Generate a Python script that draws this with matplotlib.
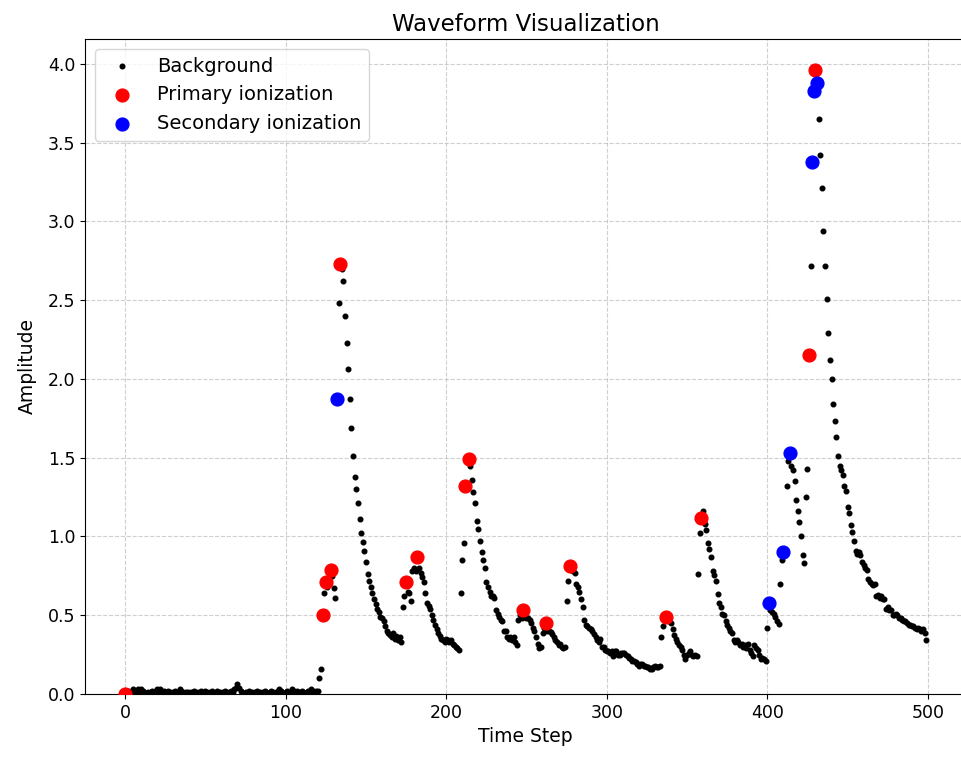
import numpy as np
import matplotlib
matplotlib.use("Agg")
import matplotlib.pyplot as plt

# waveform amplitude, one value per time step (0..499)
amplitude = [
    0.00, 0.01, 0.02, 0.01, 0.02, 0.03, 0.02, 0.01, 0.03, 0.02,
    0.03, 0.02, 0.01, 0.00, 0.01, 0.00, 0.01, 0.02, 0.01, 0.02,
    0.03, 0.02, 0.03, 0.01, 0.02, 0.00, 0.01, 0.02, 0.01, 0.00,
    0.01, 0.02, 0.00, 0.01, 0.03, 0.02, 0.01, 0.00, 0.01, 0.01,
    0.00, 0.01, 0.01, 0.02, 0.01, 0.00, 0.01, 0.02, 0.00, 0.01,
    0.02, 0.01, 0.00, 0.01, 0.02, 0.01, 0.00, 0.02, 0.01, 0.01,
    0.00, 0.01, 0.02, 0.01, 0.00, 0.01, 0.02, 0.01, 0.03, 0.04,
    0.06, 0.04, 0.02, 0.01, 0.00, 0.01, 0.00, 0.02, 0.01, 0.01,
    0.00, 0.01, 0.02, 0.00, 0.01, 0.00, 0.01, 0.02, 0.01, 0.00,
    0.01, 0.02, 0.01, 0.00, 0.01, 0.02, 0.03, 0.02, 0.01, 0.00,
    0.01, 0.02, 0.00, 0.01, 0.03, 0.02, 0.01, 0.02, 0.00, 0.01,
    0.02, 0.01, 0.00, 0.01, 0.02, 0.01, 0.03, 0.02, 0.01, 0.02,
    0.02, 0.10, 0.16, 0.50, 0.64, 0.71, 0.68, 0.74, 0.79, 0.75,
    0.675, 0.61, 1.87, 2.48, 2.73, 2.70, 2.62, 2.40, 2.23, 2.06,
    1.87, 1.69, 1.51, 1.38, 1.30, 1.21, 1.11, 1.02, 0.965, 0.91,
    0.84, 0.76, 0.72, 0.68, 0.64, 0.60, 0.57, 0.54, 0.52, 0.49,
    0.48, 0.46, 0.43, 0.40, 0.39, 0.375, 0.36, 0.39, 0.35, 0.37,
    0.34, 0.36, 0.33, 0.555, 0.62, 0.71, 0.65, 0.64, 0.59, 0.78,
    0.80, 0.78, 0.87, 0.80, 0.77, 0.74, 0.71, 0.64, 0.58, 0.56,
    0.54, 0.50, 0.47, 0.44, 0.41, 0.39, 0.37, 0.35, 0.34, 0.33,
    0.35, 0.34, 0.33, 0.34, 0.32, 0.31, 0.30, 0.29, 0.28, 0.64,
    0.85, 0.96, 1.32, 1.47, 1.49, 1.45, 1.36, 1.28, 1.21, 1.10,
    1.05, 0.97, 0.90, 0.85, 0.80, 0.71, 0.68, 0.65, 0.62, 0.62,
    0.61, 0.53, 0.51, 0.49, 0.47, 0.46, 0.40, 0.40, 0.36, 0.35,
    0.36, 0.34, 0.36, 0.33, 0.31, 0.47, 0.50, 0.48, 0.53, 0.50,
    0.48, 0.48, 0.47, 0.45, 0.42, 0.40, 0.36, 0.32, 0.29, 0.30,
    0.385, 0.42, 0.45, 0.40, 0.40, 0.395, 0.38, 0.36, 0.34, 0.33,
    0.31, 0.32, 0.30, 0.29, 0.30, 0.59, 0.72, 0.81, 0.79, 0.78,
    0.77, 0.70, 0.68, 0.65, 0.60, 0.555, 0.47, 0.44, 0.43, 0.42,
    0.41, 0.40, 0.38, 0.36, 0.34, 0.33, 0.35, 0.30, 0.30, 0.28,
    0.27, 0.27, 0.26, 0.27, 0.24, 0.27, 0.27, 0.25, 0.25, 0.26,
    0.26, 0.26, 0.25, 0.24, 0.23, 0.22, 0.21, 0.21, 0.20, 0.19,
    0.18, 0.19, 0.19, 0.18, 0.18, 0.17, 0.17, 0.16, 0.16, 0.17,
    0.18, 0.17, 0.17, 0.18, 0.36, 0.43, 0.47, 0.49, 0.47, 0.46,
    0.45, 0.41, 0.375, 0.35, 0.33, 0.31, 0.30, 0.28, 0.25, 0.22,
    0.25, 0.26, 0.27, 0.25, 0.24, 0.25, 0.24, 0.76, 1.02, 1.115,
    1.16, 1.08, 1.04, 0.96, 0.92, 0.87, 0.78, 0.755, 0.72, 0.635,
    0.58, 0.55, 0.51, 0.50, 0.46, 0.44, 0.42, 0.40, 0.385, 0.34,
    0.33, 0.34, 0.33, 0.31, 0.32, 0.30, 0.31, 0.29, 0.32, 0.28,
    0.26, 0.24, 0.31, 0.29, 0.28, 0.25, 0.22, 0.23, 0.22, 0.21,
    0.42, 0.58, 0.53, 0.52, 0.51, 0.49, 0.46, 0.445, 0.70, 0.85,
    0.90, 0.88, 1.32, 1.48, 1.53, 1.45, 1.42, 1.35, 1.23, 1.16,
    1.09, 1.00, 0.88, 0.83, 1.25, 1.43, 2.15, 2.72, 3.38, 3.83,
    3.96, 3.88, 3.65, 3.42, 3.21, 2.94, 2.72, 2.51, 2.29, 2.12,
    2.00, 1.84, 1.73, 1.63, 1.51, 1.45, 1.42, 1.39, 1.32, 1.29,
    1.185, 1.15, 1.07, 1.03, 0.97, 0.91, 0.89, 0.90, 0.88, 0.84,
    0.82, 0.80, 0.79, 0.73, 0.71, 0.70, 0.69, 0.70, 0.62, 0.63,
    0.61, 0.62, 0.60, 0.60, 0.54, 0.55, 0.53, 0.53, 0.50, 0.50,
    0.51, 0.50, 0.48, 0.48, 0.47, 0.46, 0.46, 0.45, 0.44, 0.44,
    0.43, 0.43, 0.42, 0.41, 0.42, 0.41, 0.40, 0.41, 0.39, 0.34,
]

# time steps flagged as ionization events
primary_steps = [0, 123, 125, 128, 134, 175, 182, 212, 214, 248, 262, 277, 337, 359, 426, 430]
secondary_steps = [132, 401, 410, 414, 428, 429, 431]

time_steps = np.arange(len(amplitude))
amplitude = np.array(amplitude)

fig = plt.figure(figsize=(9.61, 7.58), dpi=100)
ax = fig.add_axes([0.0885, 0.0845, 0.917, 0.864])

ax.scatter(time_steps, amplitude, s=11, color="black", label="Background", zorder=2)
ax.scatter(primary_steps, amplitude[primary_steps], s=85, color="red",
           label="Primary ionization", zorder=3)
ax.scatter(secondary_steps, amplitude[secondary_steps], s=85, color="blue",
           label="Secondary ionization", zorder=3)

ax.set_ylim(bottom=0)
ax.set_title("Waveform Visualization", fontsize=16.5)
ax.set_xlabel("Time Step", fontsize=13.5)
ax.set_ylabel("Amplitude", fontsize=13.5, labelpad=8)
ax.tick_params(labelsize=12.5)
ax.grid(True, linestyle="--", alpha=0.6)
ax.legend(loc="upper left", fontsize=14)

plt.savefig("out.png", dpi=100)
